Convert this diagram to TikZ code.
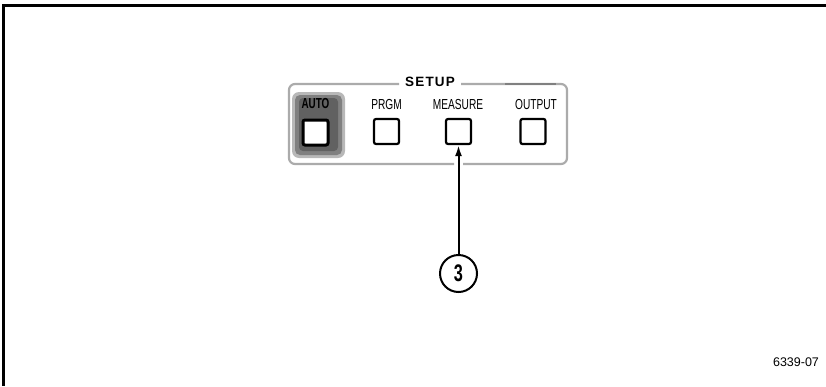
\documentclass[tikz,border=0pt]{standalone}
\usepackage{fontspec}
\usetikzlibrary{arrows.meta}
\setmainfont{Liberation Sans}
\newcommand{\condtxt}[2][0.7]{\scalebox{#1}[1]{#2}}
\begin{document}
\begin{tikzpicture}[x=1pt,y=-1pt,
  lbl/.style={font=\fontsize{14.5}{16}\selectfont, inner sep=0pt, anchor=center},
  btn/.style={draw=black, line width=2.2pt, rounded corners=2pt, minimum width=25pt, minimum height=25pt, inner sep=0pt, fill=white},
  panel/.style={draw=black!33, line width=2.2pt, rounded corners=6pt},
  frameline/.style={line width=3pt, black}]
\useasboundingbox (0,0) rectangle (826,386);
% frame
\coordinate (fTL) at (3,5);
\coordinate (fTR) at (826,5);
\coordinate (fBL) at (3,386);
\draw[frameline] (fTR) -- (fTL) -- (fBL);
% panel outline
\draw[panel] (399,84) -- (289,84) -- (289,164) -- (454,164);
\draw[panel] (463,164) -- (567,164) -- (567,84) -- (461,84);
\draw[draw=black!50, line width=2.2pt] (505,84) -- (556,84);
% AUTO halftone
\fill[black!28, rounded corners=7pt] (292,92) rectangle (345,158);
\fill[black!50, rounded corners=5pt] (295,95) rectangle (342,155);
\fill[black!62, rounded corners=4pt] (299,98) rectangle (338,151);
% SETUP title
\node[font=\bfseries\fontsize{13.5}{15}\selectfont, inner sep=0pt] (setup) at (430,82) {S\kern1.2pt E\kern1.2pt T\kern1.2pt U\kern1.2pt P};
% labels
\node[lbl, font=\bfseries\fontsize{14.5}{16}\selectfont] (lauto) at (315.5,104) {\condtxt[0.68]{AUTO}};
\node[lbl] (lprgm) at (386.5,105) {\condtxt{PRGM}};
\node[lbl] (lmeas) at (458,105) {\condtxt{MEASURE}};
\node[lbl] (lout) at (536,105) {\condtxt{OUTPUT}};
% buttons
\node[btn, line width=3pt] (bauto) at (315.5,132.5) {};
\node[btn] (bprgm) at (386.5,131.5) {};
\node[btn] (bmeas) at (458.5,131.5) {};
\node[btn] (bout) at (533,131.5) {};
% callout
\node[draw=black, line width=2pt, circle, minimum size=37pt, inner sep=0pt,
      font=\bfseries\fontsize{24}{26}\selectfont] (c3) at (458.5,273.5) {\condtxt[0.68]{3}};
\draw[line width=2pt, -{Latex[length=11pt,width=7pt]}] (c3.north) -- (bmeas.south);
% figure number
\node[font=\fontsize{12.5}{14}\selectfont, inner sep=0pt] (fig) at (796,362) {6339-07};
\end{tikzpicture}
\end{document}
